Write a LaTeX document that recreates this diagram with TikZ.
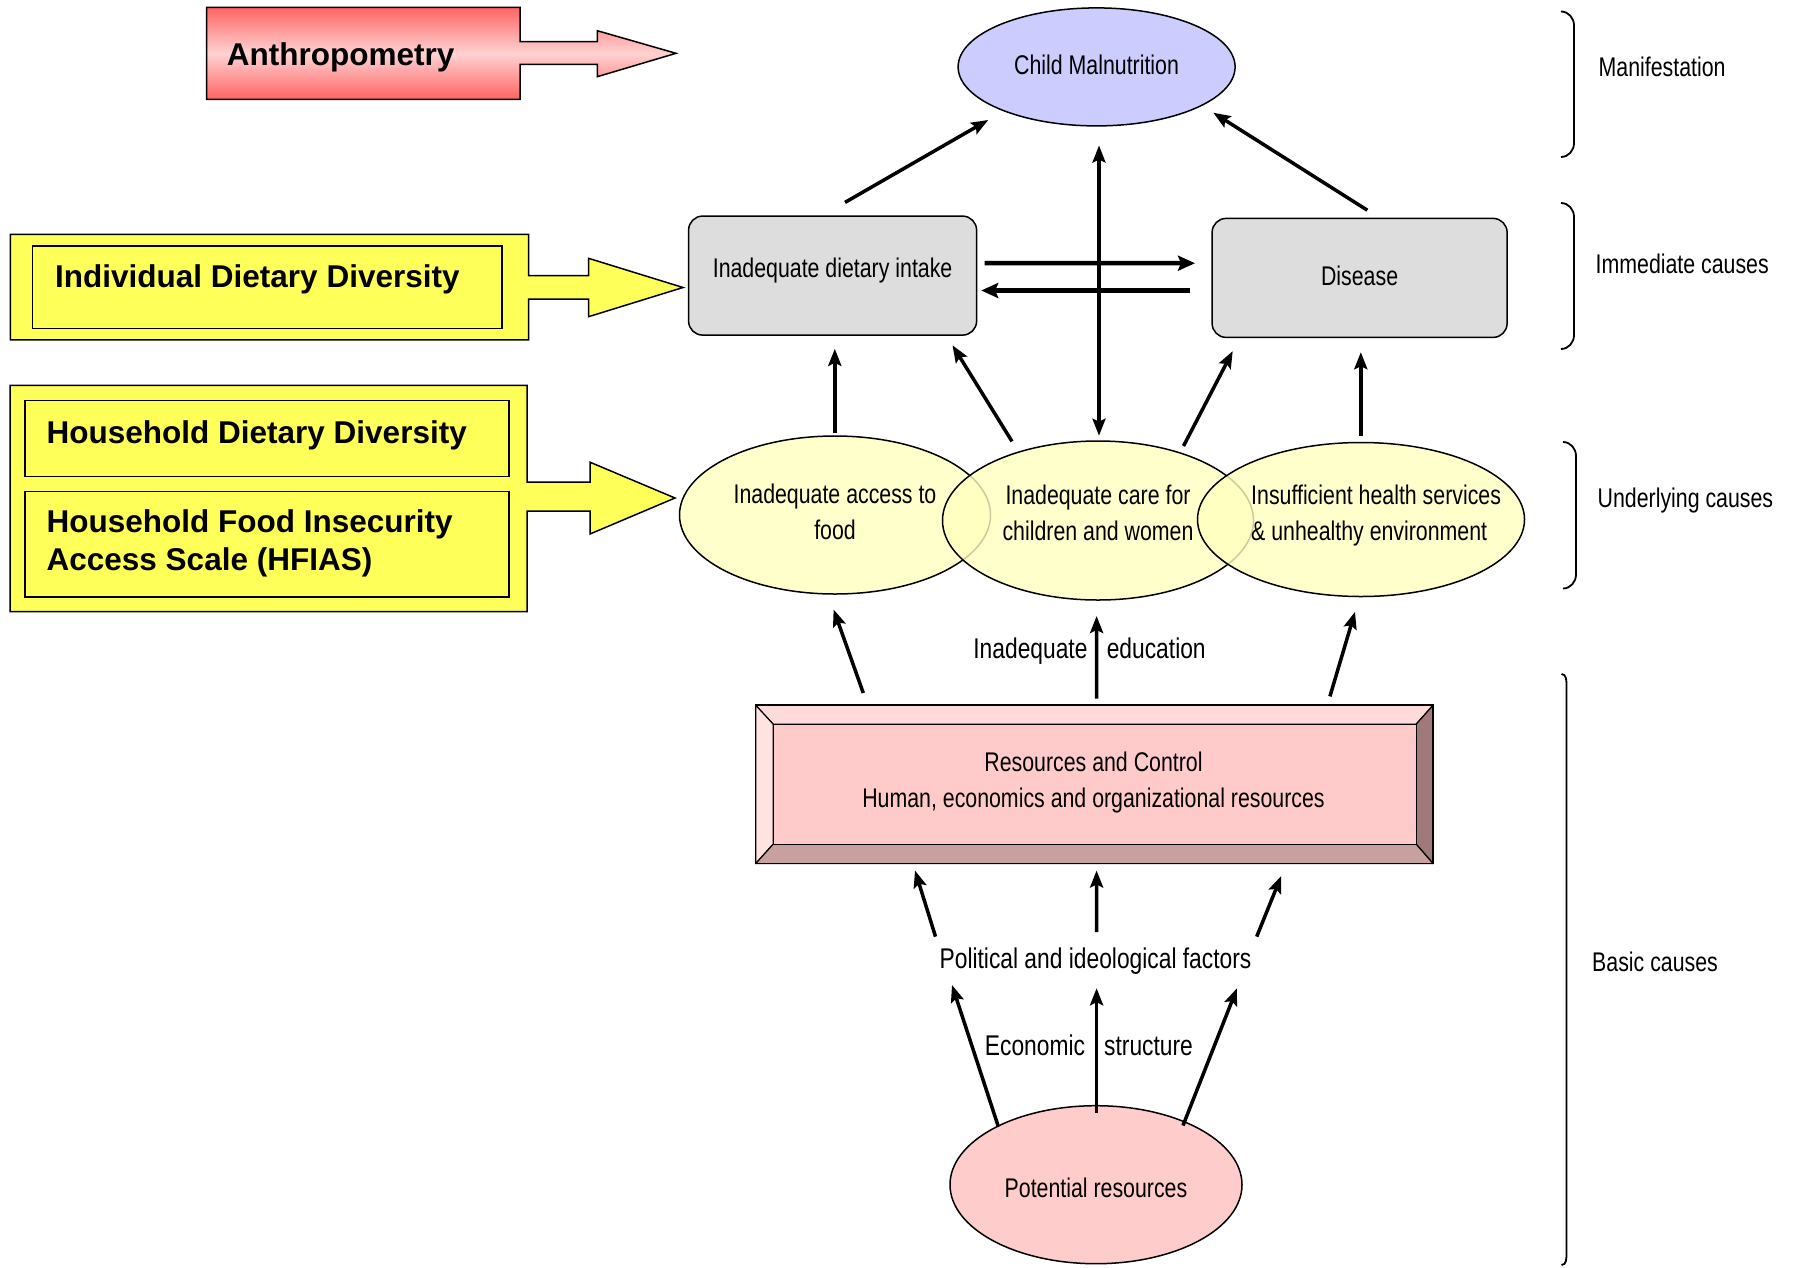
\documentclass[tikz,border=0pt]{standalone}
\usepackage{fontspec}
\setmainfont{Liberation Sans}
\newfontfamily\nar[FakeStretch=0.79]{Liberation Sans}
\newfontfamily\narl[FakeStretch=0.80]{Liberation Sans}
\usetikzlibrary{shapes.geometric,arrows.meta,calc}

\definecolor{anthtop}{HTML}{FF6464}
\definecolor{anthmid}{HTML}{FFD2D2}
\definecolor{ylw}{HTML}{FFFF5A}
\definecolor{malblue}{HTML}{CCCCFF}
\definecolor{boxgray}{HTML}{DDDDDD}
\definecolor{ellfill}{HTML}{FFFFBF}
\definecolor{resface}{HTML}{FFCACA}
\definecolor{restop}{HTML}{FFDADA}
\definecolor{resleft}{HTML}{FFE2E2}
\definecolor{resright}{HTML}{A07A7A}
\definecolor{resbot}{HTML}{C9A0A0}
\definecolor{potpink}{HTML}{FFCCCC}

\begin{document}
\begin{tikzpicture}[x=1pt,y=-1pt,
  every node/.style={inner sep=0pt},
  txt/.style={font=\nar\fontsize{27}{36}\selectfont, align=center, text=black},
  lbl/.style={font=\narl\fontsize{28.5}{33}\selectfont},
  head/.style={font=\bfseries\fontsize{31.5}{38}\selectfont, anchor=base west},
  side/.style={font=\nar\fontsize{27}{31}\selectfont, anchor=base west},
  outline/.style={draw=black, line width=1.5pt},
  arr/.style={line width=3.5pt, -{Stealth[length=17pt,width=13pt,inset=3pt]}},
  harr/.style={line width=4.5pt, -{Stealth[length=17pt,width=15pt,inset=3pt]}},
  varr/.style={line width=3.2pt, {Stealth[length=17pt,width=13pt,inset=3pt]}-{Stealth[length=17pt,width=13pt,inset=3pt]}},
  brace/.style={line width=1.8pt},
  under/.style={ellipse, outline, fill=ellfill, fill opacity=0.8}
]
\useasboundingbox (0,0) rectangle (1793,1267);
\fill[white] (0,0) rectangle (1793,1267);

% ---------- left indicator arrows ----------
\draw[line width=1.5pt, top color=anthtop, bottom color=anthtop, middle color=anthmid]
  (206.7,7.3) -- (520,7.3) -- (520,41.7) -- (597.3,41.7) -- (597.3,30.7) -- (676,53.3)
  -- (597.3,76.7) -- (597.3,64.3) -- (520,64.3) -- (520,99.3) -- (206.7,99.3) -- cycle;
\node[head] (anthro) at (226.7,65.5) {Anthropometry};

\draw[outline, fill=ylw]
  (10.3,234.4) -- (528.5,234.4) -- (528.5,275.7) -- (588.5,275.7) -- (588.5,258.3) -- (683,287.5)
  -- (588.5,316.7) -- (588.5,299) -- (528.5,299) -- (528.5,339.8) -- (10.3,339.8) -- cycle;
\draw[outline] (32.5,245.8) rectangle (502,328.3);
\node[head] (idd) at (55,287.5) {Individual Dietary Diversity};

\draw[outline, fill=ylw]
  (10,385.4) -- (527,385.4) -- (527,482) -- (590,482) -- (590,462.2) -- (675,498)
  -- (590,534) -- (590,511) -- (527,511) -- (527,611.7) -- (10,611.7) -- cycle;
\draw[outline] (25,400.5) rectangle (509,476.5);
\draw[outline] (25,491.7) rectangle (509,597);
\node[head] (hdd) at (46.5,443) {Household Dietary Diversity};
\node[head] (hfias1) at (46.5,532.5) {Household Food Insecurity};
\node[head] (hfias2) at (46.5,570.5) {Access Scale (HFIAS)};

% ---------- main nodes ----------
\node[ellipse, outline, fill=malblue, txt, minimum width=277pt, minimum height=118pt]
  (mal) at (1096.6,66.9) {\raisebox{2pt}[\height][\depth]{Child Malnutrition}};
\node[rectangle, rounded corners=14pt, outline, fill=boxgray, txt, minimum width=288pt, minimum height=119pt]
  (intake) at (832.6,275.6) {\raisebox{5pt}[\height][\depth]{Inadequate dietary intake}};
\node[rectangle, rounded corners=14pt, outline, fill=boxgray, txt, minimum width=295pt, minimum height=119pt]
  (disease) at (1359.6,277.9) {\raisebox{2pt}[\height][\depth]{Disease}};

\node[under, minimum width=311pt, minimum height=158pt] (acc) at (835,515) {};
\node[under, minimum width=311pt, minimum height=159pt] (care) at (1098,520.5) {};
\node[under, minimum width=327pt, minimum height=154pt] (hlth) at (1361,519.5) {};
\node[txt] (acctxt) at (835,511.5) {Inadequate access to\\food};
\node[txt] (caretxt) at (1098,513) {Inadequate care for\\children and women};
\node[txt, align=left, anchor=west] (hlthtxt) at (1251,516)
  {Insufficient health services\\\& unhealthy environment};

% Resources and control (bevelled box)
\node[minimum width=677pt, minimum height=158pt] (res) at (1094.4,784.4) {};
\coordinate (rnw) at ($(res.north west)+(17.5,19)$);
\coordinate (rne) at ($(res.north east)+(-17,19)$);
\coordinate (rse) at ($(res.south east)+(-17,-19.5)$);
\coordinate (rsw) at ($(res.south west)+(17.5,-19.5)$);
\filldraw[fill=restop, line width=1.2pt, line join=round] (res.north west) -- (res.north east) -- (rne) -- (rnw) -- cycle;
\filldraw[fill=resleft, line width=1.2pt, line join=round] (res.north west) -- (rnw) -- (rsw) -- (res.south west) -- cycle;
\filldraw[fill=resright, line width=1.2pt, line join=round] (res.north east) -- (res.south east) -- (rse) -- (rne) -- cycle;
\filldraw[fill=resbot, line width=1.2pt, line join=round] (res.south west) -- (rsw) -- (rse) -- (res.south east) -- cycle;
\filldraw[fill=resface, line width=1.2pt] (rnw) rectangle (rse);
\draw[line width=1.5pt] (res.north west) rectangle (res.south east);
\node[txt, font=\nar\fontsize{27}{36}\selectfont] (restxt) at (1093.5,782.5)
  {Resources and Control\\Human, economics and organizational resources};

\node[ellipse, outline, fill=potpink, txt, minimum width=292pt, minimum height=158pt]
  (pot) at (1096,1184.7) {\raisebox{-3pt}[\height][\depth]{Potential resources}};

% ---------- labels ----------
\node[lbl, anchor=base east] (inad) at (1087.7,658.3) {Inadequate};
\node[lbl, anchor=base west] (educ) at (1106.6,658.3) {education};
\node[lbl, anchor=base] (pol) at (1095.5,968.3) {Political and ideological factors};
\node[lbl, anchor=base east] (econ) at (1085.2,1055) {Economic};
\node[lbl, anchor=base west] (struc) at (1104,1055) {structure};

% ---------- connectors ----------
\draw[arr] ($(intake)+(12.4,-73.2)$) -- ($(mal)+(-108.4,53.1)$);
\draw[arr] ($(disease)+(7.7,-67.7)$) -- ($(mal)+(116.7,45.8)$);
\draw[varr] ($(mal)+(2.4,78.6)$) -- ($(care)+(1,-84.8)$);
\draw[harr] ($(intake)+(152,-12.4)$) -- ($(disease)+(-164.6,-14.7)$);
\draw[harr] ($(disease)+(-169.2,12.6)$) -- ($(intake)+(148.6,14.9)$);
\draw[arr] ($(acc)+(-0.2,-81.6)$) -- ($(intake)+(2.2,73.2)$);
\draw[arr] ($(care)+(-86,-79.1)$) -- ($(intake)+(119.9,69.7)$);
\draw[arr] ($(care)+(85.5,-74.5)$) -- ($(disease)+(-126.9,73.2)$);
\draw[arr] ($(hlth)+(-0.2,-83.8)$) -- ($(disease)+(1.2,74.3)$);
\draw[arr] ($(res)+(-231.1,-91.4)$) -- ($(acc)+(-1.4,94.5)$);
\draw[arr] ($(res)+(2.2,-85.9)$) -- ($(care)+(-1.4,95.5)$);
\draw[arr] ($(res)+(235.5,-88)$) -- ($(hlth)+(-6,92.3)$);
\draw[arr] ($(pol.base)+(-160,-31.7)$) -- ($(res)+(-179.4,86.1)$);
\draw[arr] ($(pol.base)+(1.1,-36.3)$) -- ($(res)+(2.2,86.1)$);
\draw[arr] ($(pol.base)+(161.2,-31.7)$) -- ($(res)+(186.8,91.6)$);
\draw[arr] ($(pot)+(-97.7,-58.2)$) -- ($(pol.base)+(-143.5,16.7)$);
\draw[arr] ($(pot)+(0.6,-71.7)$) -- ($(pol.base)+(1.1,19.9)$);
\draw[arr] ($(pot)+(87,-59.2)$) -- ($(pol.base)+(141.5,19.9)$);

% ---------- right-hand brackets ----------
\draw[brace] (1561,11.5) to[out=0,in=90] (1574,25.5) -- (1574,143) to[out=-90,in=0] (1561,157);
\draw[brace] (1561,203) to[out=0,in=90] (1574,217) -- (1574,335) to[out=-90,in=0] (1561,349);
\draw[brace] (1563,442) to[out=0,in=90] (1576,456) -- (1576,574.5) to[out=-90,in=0] (1563,588.5);
\draw[brace] (1561.5,674) to[out=0,in=90] (1566.5,686) -- (1566.5,1253) to[out=-90,in=0] (1561.5,1265);
\node[side] (sman) at (1598.5,76.5) {Manifestation};
\node[side] (simm) at (1595.5,273) {Immediate causes};
\node[side] (sund) at (1597.5,507.5) {Underlying causes};
\node[side] (sbas) at (1592,971.6) {Basic causes};
\end{tikzpicture}
\end{document}
